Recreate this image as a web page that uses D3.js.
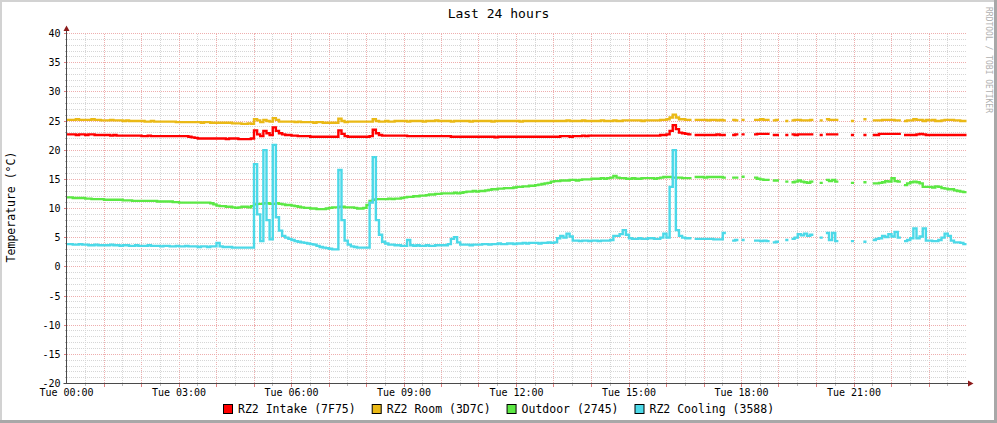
<!DOCTYPE html>
<html><head><meta charset="utf-8">
<script src="https://cdn.jsdelivr.net/npm/d3@7"></script>
<style>body{margin:0;background:#fff}svg{display:block}text{font-family:"DejaVu Sans Mono",monospace}</style>
</head><body><svg id="c" width="997" height="423"></svg>
<script>
const title = "Last 24 hours";
const yAxisTitle = "Temperature (°C)";
const watermark = "RRDTOOL / TOBI OETIKER";
const stepMinutes = 5;
const xTickHours = [0, 3, 6, 9, 12, 15, 18, 21];
const xTickLabels = ["Tue 00:00","Tue 03:00","Tue 06:00","Tue 09:00","Tue 12:00","Tue 15:00","Tue 18:00","Tue 21:00"];
const yTicks = [40, 35, 30, 25, 20, 15, 10, 5, 0, -5, -10, -15, -20];
const seriesNames = ["RZ2 Intake (7F75)", "RZ2 Room (3D7C)", "Outdoor (2745)", "RZ2 Cooling (3588)"];
const seriesColors = ["#ff0000", "#eab916", "#5ce844", "#4cd9e8"];

const intake = [
22.7,22.7,22.7,22.6,22.7,22.7,22.6,22.7,22.7,22.6,22.6,22.6,
22.6,22.6,22.5,22.6,22.5,22.5,22.5,22.5,22.5,22.5,22.5,22.5,
22.4,22.4,22.5,22.4,22.4,22.4,22.4,22.4,22.4,22.4,22.4,22.4,
22.4,22.4,22.4,22.3,22.2,22.1,22.0,22.0,22.0,22.0,22.0,22.0,
22.0,22.0,22.0,21.9,22.0,22.0,22.0,21.9,21.9,21.9,21.9,22.0,
23.4,22.7,22.4,23.3,22.9,22.6,23.9,23.3,22.9,22.7,22.6,22.6,
22.5,22.5,22.4,22.4,22.4,22.4,22.3,22.3,22.3,22.3,22.3,22.3,
22.3,22.3,22.3,23.4,22.8,22.4,22.3,22.3,22.3,22.3,22.3,22.3,
22.3,22.4,23.5,22.9,22.6,22.5,22.5,22.5,22.5,22.5,22.5,22.5,
22.5,22.4,22.4,22.4,22.4,22.4,22.4,22.4,22.4,22.4,22.4,22.4,
22.4,22.4,22.4,22.3,22.3,22.3,22.3,22.3,22.3,22.3,22.3,22.3,
22.3,22.3,22.3,22.3,22.3,22.2,22.3,22.3,22.3,22.3,22.3,22.3,
22.3,22.3,22.3,22.3,22.3,22.3,22.3,22.3,22.3,22.3,22.3,22.3,
22.3,22.3,22.4,22.4,22.4,22.3,22.4,22.4,22.4,22.5,22.4,22.5,
22.5,22.5,22.5,22.5,22.5,22.5,22.5,22.5,22.5,22.5,22.5,22.5,
22.5,22.5,22.5,22.5,22.5,22.5,22.5,22.5,22.5,22.5,22.6,22.6,
22.7,23.3,24.3,23.6,23.0,22.9,22.8,22.7,null,22.6,22.6,22.6,
22.6,22.6,22.6,22.6,22.7,22.6,22.6,null,null,22.6,22.7,null,
22.7,null,null,null,22.7,22.8,22.8,22.8,22.8,null,22.6,22.6,
null,null,22.6,null,22.7,22.6,22.7,22.7,22.7,22.7,22.7,null,
null,22.6,null,22.7,22.7,22.7,22.7,null,null,null,null,22.6,
null,null,null,22.6,null,null,22.6,22.6,22.8,22.8,22.8,22.8,
22.8,22.8,22.8,null,22.6,22.6,22.6,22.6,22.7,22.8,22.7,22.6,
22.6,22.6,22.6,22.6,22.6,22.6,22.6,22.6,22.6,22.6,22.6,22.6];

const room = [
25.2,25.2,25.2,25.3,25.2,25.2,25.2,25.2,25.3,25.2,25.2,25.1,
25.1,25.1,25.2,25.1,25.1,25.1,25.0,25.1,25.0,25.0,25.0,25.0,
25.0,24.9,24.9,25.0,24.9,24.9,24.9,24.9,24.9,24.9,24.9,24.8,
24.8,24.8,24.8,24.8,24.8,24.8,24.8,24.7,24.8,24.8,24.7,24.7,
24.7,24.7,24.7,24.7,24.7,24.6,24.6,24.6,24.5,24.5,24.6,24.5,
25.3,25.1,24.8,25.2,25.0,24.9,25.5,25.2,24.9,24.9,24.9,24.9,
24.9,24.8,24.9,24.8,24.8,24.8,24.8,24.7,24.8,24.8,24.7,24.7,
24.7,24.7,24.7,25.4,25.0,24.8,24.9,24.9,24.9,24.9,24.9,24.9,
24.9,24.9,25.3,25.0,24.9,24.9,25.0,24.9,24.9,25.0,25.0,25.0,
25.0,24.9,25.0,25.0,25.0,25.0,24.9,25.0,25.0,25.0,25.1,25.0,
25.0,25.0,25.0,24.9,25.0,25.0,25.0,25.0,25.0,24.9,25.0,25.0,
25.0,25.0,25.0,25.0,24.9,25.0,25.0,25.0,25.0,25.0,25.0,25.0,
25.0,24.9,25.0,25.0,25.0,25.0,25.0,25.0,25.0,25.0,25.0,25.0,
25.0,25.0,25.0,25.0,25.1,25.0,25.0,25.0,25.0,25.1,25.0,25.0,
25.0,25.0,25.0,25.1,25.0,25.0,25.0,25.1,25.0,25.0,25.1,25.1,
25.1,25.1,25.1,25.1,25.0,25.1,25.1,25.1,25.1,25.1,25.2,25.2,
25.3,25.6,26.1,25.6,25.3,25.3,25.2,25.2,null,25.2,25.2,25.2,
25.2,25.1,25.2,25.2,25.1,25.2,25.1,null,null,25.2,25.1,null,
25.2,null,null,null,25.2,25.2,25.3,25.2,25.2,null,25.1,25.2,
null,null,25.0,null,25.1,25.2,25.2,25.1,25.1,25.1,25.2,null,
null,25.1,null,25.3,25.2,25.2,25.2,null,null,null,null,25.0,
null,null,null,25.3,null,null,25.1,25.1,25.1,25.2,25.2,25.2,
25.2,25.1,25.1,null,25.0,25.1,25.1,25.3,25.2,25.2,25.0,25.2,
25.1,25.2,25.0,25.0,25.1,25.2,25.2,25.2,25.1,25.1,25.0,25.0];

const outdoor = [
11.9,11.9,11.8,11.8,11.8,11.8,11.7,11.7,11.6,11.6,11.6,11.6,
11.5,11.5,11.5,11.5,11.5,11.5,11.4,11.4,11.4,11.3,11.3,11.3,
11.3,11.3,11.3,11.3,11.3,11.2,11.2,11.2,11.2,11.2,11.1,11.1,
11.0,11.0,11.0,11.0,11.0,11.0,11.0,11.0,11.0,11.0,10.9,10.7,
10.5,10.4,10.4,10.3,10.3,10.2,10.1,10.2,10.3,10.3,10.2,10.4,
10.7,10.8,10.8,10.9,10.9,10.8,10.8,10.9,10.8,10.7,10.6,10.6,
10.5,10.4,10.3,10.2,10.1,10.1,10.0,10.0,9.9,9.9,9.9,10.0,
10.1,10.2,10.2,10.3,10.3,10.2,10.2,10.2,10.1,10.0,10.0,10.1,
10.6,11.3,11.5,11.6,11.6,11.6,11.6,11.7,11.6,11.7,11.7,11.8,
11.9,12.0,12.0,12.1,12.1,12.2,12.2,12.3,12.4,12.4,12.5,12.5,
12.6,12.6,12.6,12.6,12.7,12.6,12.7,12.8,12.9,12.9,13.0,12.9,
13.0,13.0,13.1,13.2,13.3,13.3,13.4,13.4,13.5,13.5,13.5,13.6,
13.7,13.7,13.8,13.8,13.9,13.9,14.0,14.1,14.2,14.3,14.4,14.6,
14.7,14.7,14.8,14.8,14.8,14.9,14.9,14.8,14.9,15.0,15.0,15.0,
15.1,15.1,15.1,15.2,15.1,15.2,15.3,15.6,15.3,15.2,15.2,15.1,
15.1,15.2,15.1,15.1,15.2,15.2,15.2,15.2,15.1,15.2,15.3,15.4,
15.4,15.4,15.3,15.3,15.3,15.2,15.2,15.2,null,15.4,15.4,15.4,
15.3,15.4,15.4,15.4,15.4,15.4,15.3,null,null,15.3,15.3,null,
15.45,null,null,null,15.3,15.1,15.0,14.9,14.9,null,14.8,14.8,
null,null,14.6,null,14.5,14.6,14.8,14.6,14.5,14.4,14.6,null,
null,14.4,null,14.9,14.7,14.9,14.6,null,null,null,null,14.4,
null,null,null,14.5,null,null,14.3,14.3,14.4,14.5,14.7,14.6,
15.2,14.7,14.6,null,14.0,14.3,14.5,14.6,14.5,14.3,13.7,13.7,
13.7,13.6,13.8,13.7,13.5,13.4,13.3,13.3,13.1,13.0,12.9,12.8];

const cooling = [
3.9,3.9,3.8,3.8,3.9,3.8,3.8,3.7,3.7,3.8,3.7,3.7,
3.7,3.7,3.8,3.7,3.7,3.6,3.7,3.7,3.6,3.6,3.7,3.6,
3.6,3.6,3.7,3.6,3.6,3.6,3.5,3.6,3.6,3.5,3.5,3.6,
3.5,3.5,3.6,3.5,3.5,3.5,3.4,3.5,3.5,3.4,3.5,3.5,
4.1,3.5,3.4,3.4,3.4,3.3,3.3,3.3,3.3,3.3,3.3,3.3,
17.6,9.0,4.4,20.0,8.0,4.7,20.9,8.5,6.2,5.3,5.0,4.8,
4.6,4.4,4.3,4.2,4.1,4.0,3.9,3.8,3.6,3.4,3.3,3.2,
3.1,3.0,3.0,16.6,8.0,4.5,3.8,3.5,3.4,3.3,3.3,3.3,
3.3,11.0,18.8,8.0,5.5,4.3,4.0,3.8,3.8,3.7,3.7,3.6,
3.6,4.6,3.7,3.6,3.7,3.6,3.6,3.7,3.6,3.6,3.7,3.7,
3.7,3.7,3.9,4.8,5.1,4.2,3.8,3.8,3.8,3.7,3.8,3.8,
3.8,3.9,3.9,3.8,3.9,3.9,4.0,3.9,3.9,4.0,4.0,3.9,
4.0,4.0,4.1,4.0,4.1,4.1,4.1,4.0,4.1,4.1,4.2,4.1,
4.2,4.9,5.3,5.0,5.7,5.2,4.5,4.5,4.4,4.5,4.5,4.4,
4.5,4.5,4.4,4.5,4.5,4.5,4.6,5.3,5.3,5.6,6.3,5.5,
4.9,4.8,4.8,4.9,4.8,4.8,4.9,4.9,4.8,4.8,5.0,5.7,
5.0,13.7,20.0,6.3,5.3,5.0,4.9,4.9,null,4.8,4.8,4.8,
4.8,4.8,4.8,4.7,4.7,4.7,5.8,null,null,4.5,4.6,null,
4.6,null,null,null,4.5,4.5,4.4,4.5,4.4,null,4.2,4.3,
null,null,4.6,null,4.8,5.0,5.6,5.4,5.7,5.3,5.5,null,
null,5.0,null,5.8,4.6,5.8,4.4,null,null,null,null,4.4,
null,null,null,4.3,null,null,4.6,4.8,4.9,5.3,5.1,5.6,
5.2,6.0,5.0,null,4.4,4.6,4.9,6.6,4.9,5.2,6.6,4.5,
4.5,4.4,4.4,4.6,5.0,5.7,5.3,4.5,4.2,4.2,4.1,3.9];

const seriesData = [intake, room, outdoor, cooling];

const svg = d3.select("#c");
const x = d3.scaleLinear().domain([0, 1440]).range([66.5, 966.5]);
const y = d3.scaleLinear().domain([-20, 40]).range([383.5, 33.5]);
const snap = v => Math.floor(v) + 0.5;

svg.append("rect").attr("width", 997).attr("height", 423).attr("fill", "#ffffff");
// 3D frame
svg.append("rect").attr("x", 0).attr("y", 0).attr("width", 997).attr("height", 2).attr("fill", "#d2d2d2");
svg.append("rect").attr("x", 0).attr("y", 0).attr("width", 2).attr("height", 423).attr("fill", "#d2d2d2");
svg.append("rect").attr("x", 0).attr("y", 420).attr("width", 997).attr("height", 3).attr("fill", "#a8a8a8");
svg.append("rect").attr("x", 994).attr("y", 0).attr("width", 3).attr("height", 423).attr("fill", "#a8a8a8");

const grid = svg.append("g").attr("shape-rendering", "crispEdges");
const [y0, y1] = [y(-20), y(40)];
const [x0, x1] = [x(0), x(1440)];
const minorC = "#d6d6d6", majorC = "#eeaeae";
// vertical grid (every 30 min minor, every hour major)
for (let m = 30; m < 1440; m += 30) {
  const major = m % 60 === 0;
  const xx = snap(x(m));
  grid.append("line").attr("x1", xx).attr("x2", xx).attr("y1", y1).attr("y2", y0)
    .attr("stroke", major ? majorC : minorC).attr("stroke-dasharray", "1,1");
  grid.append("line").attr("x1", xx).attr("x2", xx).attr("y1", y0).attr("y2", y0 + (major ? 3 : 2))
    .attr("stroke", major ? "#e08080" : "#bbbbbb");
}
// horizontal grid (every 1 minor, every 5 major)
for (let v = -19; v <= 40; v += 1) {
  const major = v % 5 === 0;
  const yy = snap(y(v));
  grid.append("line").attr("x1", x0).attr("x2", x1).attr("y1", yy).attr("y2", yy)
    .attr("stroke", major ? majorC : minorC).attr("stroke-dasharray", "1,1");
  grid.append("line").attr("x1", x0 - (major ? 3 : 2)).attr("x2", x0).attr("y1", yy).attr("y2", yy)
    .attr("stroke", major ? "#e08080" : "#bbbbbb");
}

// data lines
function stepPoints(arr) {
  const pts = [];
  arr.forEach((v, i) => {
    if (v == null) { if (pts.length && pts[pts.length - 1] !== null) pts.push(null); return; }
    pts.push([i * stepMinutes, v]);
    if (i === arr.length - 1 || arr[i + 1] == null) pts.push([(i + 1) * stepMinutes, v]);
  });
  return pts;
}
const line = d3.line().defined(d => d !== null).x(d => x(d[0])).y(d => y(d[1])).curve(d3.curveStepAfter);
seriesData.forEach((arr, k) => {
  svg.append("path").attr("d", line(stepPoints(arr))).attr("fill", "none")
    .attr("stroke", seriesColors[k]).attr("stroke-width", 2.4).attr("stroke-linejoin", "miter");
});

// axes
svg.append("line").attr("x1", x0).attr("x2", x0).attr("y1", y0).attr("y2", 29).attr("stroke", "#4a4a4a");
svg.append("line").attr("x1", x0 - 3).attr("x2", 969).attr("y1", y0).attr("y2", y0).attr("stroke", "#4a4a4a");
svg.append("path").attr("d", `M${x0 - 3},31 L${x0},25.5 L${x0 + 3},31 Z`).attr("fill", "#8c1a1a");
svg.append("path").attr("d", `M968,${y0 - 3} L973.5,${y0} L968,${y0 + 3} Z`).attr("fill", "#8c1a1a");

// y tick labels
yTicks.forEach(v => {
  svg.append("text").attr("x", 60.5).attr("y", y(v) + 3.5).attr("text-anchor", "end")
    .attr("font-size", "10px").attr("fill", "#000").text(String(v));
});
// x tick labels
xTickHours.forEach((h, i) => {
  svg.append("text").attr("x", x(h * 60)).attr("y", 396).attr("text-anchor", "middle")
    .attr("font-size", "10px").attr("fill", "#000").text(xTickLabels[i]);
});

// title
svg.append("text").attr("x", 498.5).attr("y", 18).attr("text-anchor", "middle")
  .attr("font-size", "13px").attr("fill", "#000").text(title);
// y axis title
svg.append("text").attr("transform", "translate(15,207) rotate(-90)").attr("text-anchor", "middle")
  .attr("font-size", "11.5px").attr("fill", "#000").text(yAxisTitle);
// watermark
svg.append("text").attr("transform", "translate(986,60) rotate(90)").attr("text-anchor", "middle")
  .attr("font-size", "8px").attr("fill", "#b0b0b0").text(watermark);

// legend
const lg = svg.append("g");
const items = seriesNames.map((name, k) => {
  const g = lg.append("g");
  g.append("rect").attr("x", 0.5).attr("y", 404.5).attr("width", 9).attr("height", 9)
    .attr("fill", seriesColors[k]).attr("stroke", "#000").attr("stroke-width", 1);
  const t = g.append("text").attr("x", 15).attr("y", 413).attr("font-size", "11.5px").attr("fill", "#000").text(name);
  return { g, w: 15 + t.node().getComputedTextLength() };
});
const gap = 16;
const total = d3.sum(items, d => d.w) + gap * (items.length - 1);
let cx = Math.round(498.5 - total / 2);
items.forEach(it => { it.g.attr("transform", `translate(${cx},0)`); cx += it.w + gap; });
</script></body></html>
